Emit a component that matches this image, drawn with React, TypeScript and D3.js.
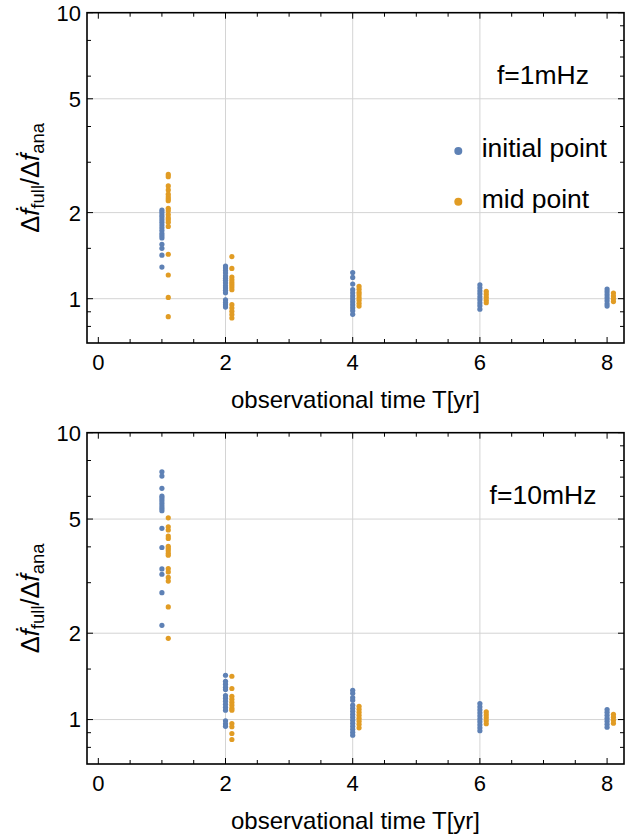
import React from "react";
import * as d3 from "d3";

// observational times and the two sample sets (initial point / mid point)
const times = [1, 2, 4, 6, 8];

const f1Initial = [
  [2.04, 2.0, 1.96, 1.93, 1.89, 1.85, 1.81, 1.77, 1.73, 1.69, 1.66, 1.63, 1.55, 1.5, 1.42, 1.29],
  [1.3, 1.28, 1.255, 1.23, 1.2, 1.18, 1.16, 1.135, 1.11, 1.09, 1.07, 1.05, 0.99, 0.97, 0.953, 0.935],
  [1.235, 1.187, 1.125, 1.075, 1.049, 1.024, 1.0, 0.976, 0.953, 0.93, 0.908, 0.882],
  [1.119, 1.092, 1.066, 1.041, 1.016, 0.992, 0.968, 0.945, 0.919],
  [1.081, 1.058, 1.033, 1.008, 0.984, 0.96, 0.942],
];
const f1Mid = [
  [2.72, 2.67, 2.48, 2.4, 2.32, 2.27, 2.23, 2.2, 2.07, 2.03, 1.97, 1.92, 1.89, 1.85, 1.79, 1.43, 1.21, 1.01, 0.865],
  [1.404, 1.276, 1.19, 1.165, 1.14, 1.119, 1.098, 1.075, 0.953, 0.928, 0.903, 0.88, 0.856],
  [1.104, 1.079, 1.053, 1.033, 1.008, 0.988, 0.964, 0.942],
  [1.06, 1.037, 1.012, 0.988, 0.968],
  [1.047, 1.022, 1.0, 0.977],
];
const f10Initial = [
  [7.31, 7.06, 6.4, 6.01, 5.9, 5.79, 5.67, 5.55, 5.45, 5.35, 4.64, 3.98, 3.35, 3.21, 2.77, 2.13],
  [1.427, 1.36, 1.328, 1.296, 1.273, 1.213, 1.187, 1.159, 1.131, 1.104, 1.078, 0.99, 0.967, 0.947],
  [1.265, 1.235, 1.193, 1.168, 1.122, 1.095, 1.069, 1.043, 1.019, 0.994, 0.971, 0.947, 0.925, 0.903, 0.882],
  [1.137, 1.108, 1.082, 1.056, 1.031, 1.006, 0.983, 0.959, 0.936, 0.914],
  [1.084, 1.06, 1.035, 1.01, 0.987, 0.963, 0.94],
];
const f10Mid = [
  [5.05, 4.7, 4.58, 4.36, 4.28, 4.02, 3.95, 3.88, 3.8, 3.74, 3.36, 3.27, 3.13, 3.04, 2.47, 1.92],
  [1.416, 1.283, 1.206, 1.177, 1.149, 1.122, 1.095, 1.078, 0.968, 0.944, 0.894, 0.852],
  [1.113, 1.086, 1.06, 1.035, 1.01, 0.987, 0.963, 0.936],
  [1.063, 1.039, 1.015, 0.99, 0.967],
  [1.043, 1.019, 0.994, 0.971],
];

const xTicks = [0, 2, 4, 6, 8];
const yTicks = [1, 2, 5, 10];
const yMinorLeft = [0.8, 0.9, 1.5, 3, 4, 6, 8];
const yMinorRight = [0.8, 0.9, 1.5, 3, 4, 6, 7, 8, 9];
const xGrid = [2, 4, 6];
const legendLabels = ["initial point", "mid point"];

const BLUE = "#5E81B5";
const ORANGE = "#E19C24";
const FONT = "'Liberation Sans', Arial, sans-serif";

const left = 87;
const right = 624;

const Panel = ({ top, bottom, label, initial, mid, legend }: any) => {
  const x = d3.scaleLinear().domain([-0.178, 8.266]).range([left, right]);
  const y = d3.scaleLog().domain([0.7, 10]).range([bottom, top]);
  const xMinor = d3.range(0, 8.01, 0.5).filter((v) => !xTicks.includes(v));
  const midY = (top + bottom) / 2;

  const pts = (sets: number[][], dx: number, color: string) =>
    sets.flatMap((vals, i) =>
      vals.map((v, j) => (
        <circle key={`${color}-${i}-${j}`} cx={x(times[i] + dx)} cy={y(v)} r={2.6} fill={color} />
      ))
    );

  return (
    <g>
      {xGrid.map((v) => (
        <line key={`gx${v}`} x1={x(v)} x2={x(v)} y1={top} y2={bottom} stroke="#d4d4d4" strokeWidth={1} />
      ))}
      {[1, 2, 5].map((v) => (
        <line key={`gy${v}`} x1={left} x2={right} y1={y(v)} y2={y(v)} stroke="#d4d4d4" strokeWidth={1} />
      ))}
      {pts(initial, 0, BLUE)}
      {pts(mid, 0.1, ORANGE)}

      {/* frame ticks */}
      {xTicks.map((v) => (
        <g key={`xt${v}`}>
          <line x1={x(v)} x2={x(v)} y1={bottom} y2={bottom - 6} stroke="#000" strokeWidth={1} />
          <line x1={x(v)} x2={x(v)} y1={top} y2={top + 6} stroke="#000" strokeWidth={1} />
          <text x={x(v)} y={bottom + 27} textAnchor="middle" fontSize={22} fontFamily={FONT}>
            {v}
          </text>
        </g>
      ))}
      {xMinor.map((v) => (
        <g key={`xm${v}`}>
          <line x1={x(v)} x2={x(v)} y1={bottom} y2={bottom - 4} stroke="#000" strokeWidth={1} />
          <line x1={x(v)} x2={x(v)} y1={top} y2={top + 4} stroke="#000" strokeWidth={1} />
        </g>
      ))}
      {yTicks.map((v) => (
        <g key={`yt${v}`}>
          <line x1={left} x2={left + 6} y1={y(v)} y2={y(v)} stroke="#000" strokeWidth={1} />
          <line x1={right} x2={right - 6} y1={y(v)} y2={y(v)} stroke="#000" strokeWidth={1} />
          <text x={81} y={y(v)} dy="0.36em" textAnchor="end" fontSize={22} fontFamily={FONT}>
            {v}
          </text>
        </g>
      ))}
      {yMinorLeft.map((v) => (
        <line key={`yl${v}`} x1={left} x2={left + 4} y1={y(v)} y2={y(v)} stroke="#000" strokeWidth={1} />
      ))}
      {yMinorRight.map((v) => (
        <line key={`yr${v}`} x1={right} x2={right - 4} y1={y(v)} y2={y(v)} stroke="#000" strokeWidth={1} />
      ))}
      <rect x={left} y={top} width={right - left} height={bottom - top} fill="none" stroke="#000" strokeWidth={1.6} />

      <text x={543} y={top + 71} textAnchor="middle" fontSize={26.5} fontFamily={FONT}>
        {label}
      </text>

      {legend &&
        legendLabels.map((l, i) => (
          <g key={l}>
            <circle cx={458.3} cy={151 + i * 50.7} r={4} fill={i === 0 ? BLUE : ORANGE} />
            <text x={481.7} y={157 + i * 50.7} fontSize={26.5} fontFamily={FONT}>
              {l}
            </text>
          </g>
        ))}

      <text x={355.5} y={bottom + 65} textAnchor="middle" fontSize={24} fontFamily={FONT}>
        observational time T[yr]
      </text>
      <text transform={`translate(39,${midY}) rotate(-90)`} textAnchor="middle" fontSize={25.5} fontFamily={FONT}>
        <tspan>Δ</tspan>
        <tspan fontStyle="italic">ḟ</tspan>
        <tspan fontSize={18.5} dy={5}>full</tspan>
        <tspan dy={-5}>/Δ</tspan>
        <tspan fontStyle="italic">ḟ</tspan>
        <tspan fontSize={18.5} dy={5}>ana</tspan>
      </text>
    </g>
  );
};

export default function App() {
  return (
    <svg width={641} height={839} style={{ position: "absolute", left: 0, top: 0, background: "#fff" }}>
      <Panel top={12.7} bottom={343} label="f=1mHz" initial={f1Initial} mid={f1Mid} legend />
      <Panel top={432.7} bottom={764} label="f=10mHz" initial={f10Initial} mid={f10Mid} legend={false} />
    </svg>
  );
}
